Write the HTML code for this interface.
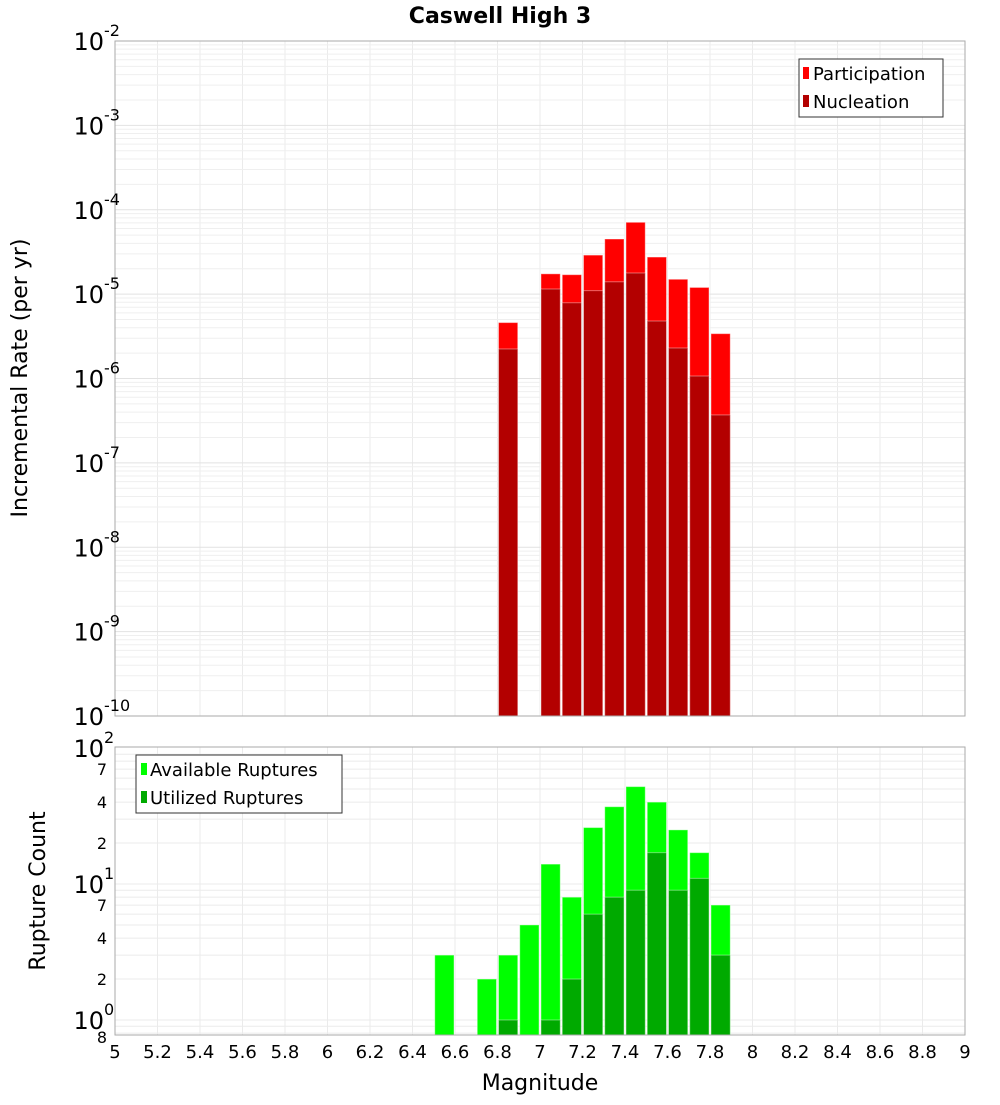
<!DOCTYPE html>
<html><head><meta charset="utf-8"><style>
body{margin:0;background:#fff;}
svg text{font-family:"DejaVu Sans","Liberation Sans",sans-serif;}
</style></head><body>
<svg id="chart" width="1000" height="1100" xmlns="http://www.w3.org/2000/svg">
<text x="500" y="23" text-anchor="middle" font-size="22" font-weight="bold">Caswell High 3</text>
<g id="grid1"></g>
<g id="grid2"></g>
<g id="bars1"></g>
<g id="bars2"></g>
<rect x="115" y="41" width="850" height="675" fill="none" stroke="#aaa"/>
<rect x="115" y="747" width="850" height="288" fill="none" stroke="#aaa"/>
<g id="yt1"></g>
<g id="yt2"></g>
<g id="xt"></g>
<text transform="translate(27,378) rotate(-90)" text-anchor="middle" font-size="22">Incremental Rate (per yr)</text>
<text transform="translate(45,891) rotate(-90)" text-anchor="middle" font-size="22">Rupture Count</text>
<text x="540" y="1090" text-anchor="middle" font-size="22">Magnitude</text>
<g>
<rect x="799" y="59" width="144" height="58" fill="#fff" stroke="#333"/>
<rect x="803" y="67" width="6" height="12" fill="#ff0000"/>
<text x="813" y="80" font-size="18">Participation</text>
<rect x="803" y="95" width="6" height="12" fill="#b30000"/>
<text x="813" y="108" font-size="18">Nucleation</text>
</g>
<g>
<rect x="136" y="755" width="206" height="58" fill="#fff" stroke="#333"/>
<rect x="141" y="763" width="6" height="12" fill="#00ff00"/>
<text x="150" y="776" font-size="18">Available Ruptures</text>
<rect x="141" y="791" width="6" height="12" fill="#00aa00"/>
<text x="150" y="804" font-size="18">Utilized Ruptures</text>
</g>
</svg>
<script>
const topMags=[6.85,7.05,7.15,7.25,7.35,7.45,7.55,7.65,7.75,7.85];
const participation=[4.6e-6,1.74e-5,1.7e-5,2.9e-5,4.5e-5,7.1e-5,2.75e-5,1.5e-5,1.2e-5,3.4e-6];
const nucleation=[2.24e-6,1.15e-5,7.9e-6,1.1e-5,1.4e-5,1.78e-5,4.8e-6,2.3e-6,1.07e-6,3.7e-7];
const botMags=[6.55,6.75,6.85,6.95,7.05,7.15,7.25,7.35,7.45,7.55,7.65,7.75,7.85];
const available=[3,2,3,5,14,8,26,37,52,40,25,17,7];
const utilized=[0,0,1,0,1,2,6,8,9,17,9,11,3];
const xTicks=[5,5.2,5.4,5.6,5.8,6,6.2,6.4,6.6,6.8,7,7.2,7.4,7.6,7.8,8,8.2,8.4,8.6,8.8,9];
const topExps=[-2,-3,-4,-5,-6,-7,-8,-9,-10];
const botMinorLabels=[2,4,7];

const NS="http://www.w3.org/2000/svg";
function mk(tag,attrs,parent){const e=document.createElementNS(NS,tag);for(const k in attrs)e.setAttribute(k,attrs[k]);parent.appendChild(e);return e;}
const X=m=>115+(m-5)*212.5;
const Y1=v=>41+(-2-Math.log10(v))*84.375;
const Y2=v=>748+(2-Math.log10(v))*136;
const g1=document.getElementById('grid1'),g2=document.getElementById('grid2');
xTicks.forEach(t=>{
 const l=mk('line',{x1:X(t),x2:X(t),y1:41,y2:716,stroke:'#ebebeb'},g1);
 
 const l2=mk('line',{x1:X(t),x2:X(t),y1:747,y2:1035,stroke:'#ebebeb'},g2);
 
 const tx=mk('text',{x:X(t),y:1058,'text-anchor':'middle','font-size':18},document.getElementById('xt'));
 tx.textContent=String(t);
 
});
for(let e=-10;e<-2;e++)for(let k=1;k<10;k++){
 const y=Y1(k*Math.pow(10,e));
 const l=mk('line',{x1:115,x2:965,y1:y,y2:y,stroke:k==1?'#e2e2e2':'#efefef'},g1);
 
}
for(let e=-1;e<2;e++)for(let k=1;k<10;k++){
 const v=k*Math.pow(10,e);const y=Y2(v);if(y>1035||y<747)continue;
 const l=mk('line',{x1:115,x2:965,y1:y,y2:y,stroke:'#ebebeb'},g2);
 
}
const yt1=document.getElementById('yt1');
topExps.forEach(e=>{
 const y=Y1(Math.pow(10,e));
 const t=mk('text',{x:104,y:y+9,'text-anchor':'end','font-size':24},yt1);
 t.textContent='10';
 const s=mk('text',{x:104,y:y-5,'font-size':16},yt1);
 s.textContent=String(e);
});
const yt2=document.getElementById('yt2');
[2,1,0].forEach(e=>{
 const y=Y2(Math.pow(10,e));
 const t=mk('text',{x:104,y:y+9,'text-anchor':'end','font-size':24},yt2);
 t.textContent='10';
 const s=mk('text',{x:104,y:y-5,'font-size':16},yt2);
 s.textContent=String(e);
});
[1,10].forEach(d=>botMinorLabels.forEach(k=>{
 const y=Y2(k*d);
 const t=mk('text',{x:107,y:y+6,'text-anchor':'end','font-size':16},yt2);
 t.textContent=String(k);
}));
const e8=mk('text',{x:107,y:1043,'text-anchor':'end','font-size':16},yt2);
e8.textContent='8';
const b1=document.getElementById('bars1'),b2=document.getElementById('bars2');
function bar(par,m,v,yf,bottom,fill,name){
 if(v<=0)return;
 const y=Math.max(yf(v),par===b1?41:747);
 const r=mk('rect',{x:X(m-0.05)+1,y:y,width:212.5*0.1-2,height:bottom-y,fill:fill,stroke:'#fff','stroke-opacity':0.4,'stroke-width':1},par);
 
}
topMags.forEach((m,i)=>{bar(b1,m,participation[i],Y1,716,'#ff0000','participation-bar');bar(b1,m,nucleation[i],Y1,716,'#b30000','nucleation-bar');});
botMags.forEach((m,i)=>{bar(b2,m,available[i],Y2,1035,'#00ff00','available-bar');bar(b2,m,utilized[i],Y2,1035,'#00aa00','utilized-bar');});
</script>
</body></html>
